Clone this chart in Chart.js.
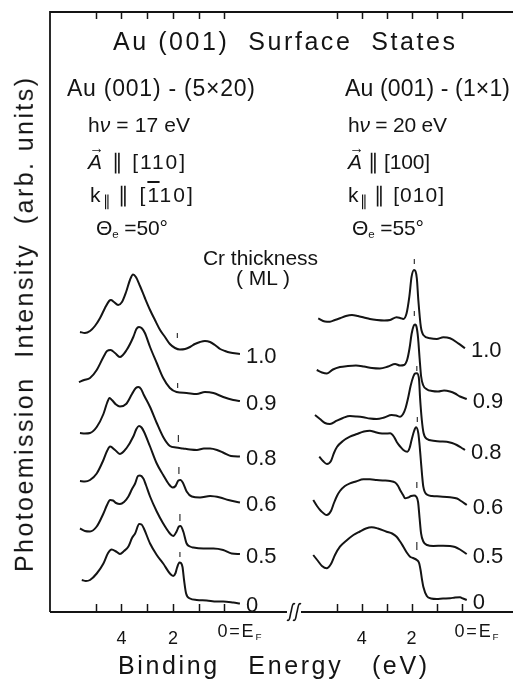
<!DOCTYPE html>
<html>
<head>
<meta charset="utf-8">
<script src="https://cdn.jsdelivr.net/npm/chart.js@4.4.1/dist/chart.umd.min.js"></script>
<style>
html, body { margin: 0; padding: 0; background: #fff; }
#wrap { position: relative; width: 513px; height: 681px; overflow: hidden;
        font-family: "Liberation Sans", Arial, sans-serif; color: #141414; }
#c { position: absolute; left: 0; top: 0; }
.t { position: absolute; white-space: pre; line-height: 1; }
.t sub { font-size: 55%; vertical-align: -0.3em; line-height: 0; }
.t sub.par { font-size: 70%; letter-spacing: 0; }
.vec { position: relative; font-style: italic; }
.vec::before { content: "\2192"; position: absolute; left: 0.08em; top: -0.6em; font-size: 70%; font-style: normal; }
.bar { text-decoration: overline; }
</style>
</head>
<body>
<div id="wrap"><canvas id="c" width="513" height="681"></canvas></div>
<script>
const INK = "#141414";

// Cr coverage (ML) for each stacked spectrum, top to bottom
const CR_LABELS = ["1.0", "0.9", "0.8", "0.6", "0.5", "0"];

// binding-energy ticks (eV)
const TICK_VALUES = [0, 1, 2, 3, 4, 5];
const TICK_LABELS = { 4: "4", 2: "2" };

// Au(001)-(5x20), hv = 17 eV : [binding energy (eV), intensity + offset]
const L_10 = [[5.61,28.0],[5.42,27.9],[5.22,28.1],[5.03,28.6],[4.83,29.4],[4.64,30.4],[4.48,31.1],[4.41,31.2],[4.29,31.0],[4.13,30.7],[3.98,31.0],[3.82,32.0],[3.67,33.2],[3.55,33.75],[3.44,33.5],[3.28,32.6],[3.09,31.4],[2.89,30.2],[2.70,29.2],[2.50,28.2],[2.31,27.5],[2.12,26.8],[1.92,26.4],[1.73,26.25],[1.53,26.3],[1.34,26.5],[1.15,26.8],[0.95,27.0],[0.76,27.1],[0.56,27.0],[0.37,26.7],[0.17,26.3],[-0.02,26.1],[-0.21,25.95],[-0.60,25.8]];
const L_09 = [[5.65,23.0],[5.45,23.2],[5.22,23.4],[4.96,24.2],[4.70,25.5],[4.56,26.1],[4.42,26.2],[4.25,25.9],[4.06,25.5],[3.80,26.2],[3.54,27.5],[3.42,28.3],[3.32,28.5],[3.20,28.35],[3.09,27.9],[2.89,26.5],[2.63,24.9],[2.38,23.4],[2.12,22.4],[1.86,22.0],[1.47,21.9],[1.08,21.8],[0.76,22.0],[0.43,21.9],[0.05,21.5],[-0.34,21.2],[-0.60,21.1]];
const L_08 = [[5.61,17.9],[5.42,17.85],[5.22,17.9],[4.96,18.5],[4.70,19.8],[4.56,20.9],[4.46,21.4],[4.37,21.2],[4.21,20.75],[4.06,20.55],[3.82,20.8],[3.59,21.8],[3.44,22.4],[3.34,22.5],[3.24,22.3],[3.13,21.7],[2.89,20.5],[2.63,18.9],[2.38,17.5],[2.12,16.6],[1.88,16.45],[1.61,16.35],[1.34,16.25],[1.07,16.2],[0.80,16.35],[0.56,16.35],[0.29,16.2],[0.02,15.9],[-0.25,15.6],[-0.60,15.55]];
const L_06 = [[5.61,13.1],[5.42,13.05],[5.22,13.2],[4.96,13.85],[4.70,15.2],[4.56,16.1],[4.44,16.55],[4.25,16.2],[4.06,15.8],[3.80,16.4],[3.54,17.55],[3.42,18.3],[3.32,18.6],[3.22,18.45],[3.13,18.05],[2.89,16.55],[2.63,14.85],[2.38,13.7],[2.18,12.85],[2.01,12.45],[1.90,12.6],[1.79,13.15],[1.71,13.2],[1.61,12.9],[1.47,12.05],[1.27,11.55],[0.95,11.45],[0.56,11.6],[0.17,11.45],[-0.15,11.2],[-0.60,10.95]];
const L_05 = [[5.61,8.35],[5.42,8.1],[5.22,8.05],[4.96,8.55],[4.70,9.85],[4.56,10.7],[4.44,11.2],[4.33,11.15],[4.21,10.9],[4.06,10.8],[3.90,11.0],[3.73,11.55],[3.59,12.3],[3.47,12.85],[3.36,13.6],[3.28,13.65],[3.15,13.35],[3.05,12.7],[2.89,11.55],[2.63,10.05],[2.38,8.85],[2.12,7.85],[1.99,7.6],[1.86,8.05],[1.77,8.55],[1.71,8.6],[1.60,8.05],[1.47,6.85],[1.34,6.55],[1.21,6.45],[0.82,6.35],[0.43,6.35],[0.05,6.2],[-0.28,5.85],[-0.60,5.8]];
const L_00 = [[5.54,3.2],[5.38,3.1],[5.22,3.2],[4.96,3.85],[4.70,4.85],[4.52,5.9],[4.38,6.25],[4.21,6.05],[4.06,5.8],[3.90,6.1],[3.73,6.55],[3.59,7.4],[3.47,7.85],[3.31,8.8],[3.22,8.75],[3.13,8.35],[2.89,6.85],[2.63,5.7],[2.38,4.85],[2.12,3.85],[1.99,3.6],[1.90,3.9],[1.84,4.45],[1.75,4.95],[1.69,4.9],[1.63,4.5],[1.57,3.2],[1.49,1.85],[1.34,1.35],[1.08,1.2],[0.69,1.15],[0.30,1.05],[0.05,1.05],[-0.34,0.95],[-0.60,0.85]];

// Au(001)-(1x1), hv = 20 eV
const R_10 = [[5.74,29.37],[5.47,29.05],[5.27,29.03],[5.07,29.2],[4.87,29.37],[4.63,29.6],[4.39,29.7],[4.15,29.6],[3.91,29.45],[3.67,29.3],[3.39,29.2],[3.10,29.15],[2.86,29.2],[2.60,29.47],[2.46,29.4],[2.33,29.3],[2.20,29.87],[2.09,31.53],[2.00,33.53],[1.90,34.2],[1.79,33.37],[1.73,31.2],[1.63,28.53],[1.53,27.7],[1.26,27.37],[0.99,27.3],[0.73,27.47],[0.46,27.37],[0.13,26.87],[-0.14,26.37]];
const R_09 = [[5.80,24.2],[5.59,23.95],[5.39,23.85],[5.15,24.25],[4.87,24.5],[4.55,24.6],[4.23,24.65],[3.91,24.55],[3.59,24.4],[3.27,24.35],[2.94,24.55],[2.66,24.8],[2.46,24.65],[2.30,24.7],[2.18,25.2],[2.08,26.4],[2.00,27.8],[1.92,28.6],[1.86,28.75],[1.80,28.5],[1.74,27.4],[1.68,25.4],[1.62,23.6],[1.54,22.7],[1.38,22.25],[1.18,22.1],[0.94,22.05],[0.70,22.15],[0.46,22.05],[0.26,21.85],[0.06,21.55],[-0.21,21.3]];
const R_08 = [[5.87,19.7],[5.67,19.3],[5.47,18.9],[5.27,18.8],[5.00,19.13],[4.75,19.4],[4.47,19.6],[4.19,19.55],[3.93,19.47],[3.67,19.35],[3.40,19.3],[3.10,19.45],[2.80,19.7],[2.62,19.65],[2.46,19.53],[2.34,19.8],[2.24,20.4],[2.14,21.4],[2.04,22.6],[1.93,23.55],[1.86,23.85],[1.78,23.87],[1.70,23.2],[1.66,21.4],[1.59,19.2],[1.52,17.9],[1.38,17.3],[1.13,17.13],[0.86,17.05],[0.59,17.03],[0.38,16.9],[0.19,16.7],[0.02,16.45],[-0.14,16.2]];
const R_06 = [[5.70,15.53],[5.55,15.1],[5.39,14.8],[5.23,15.1],[5.11,15.9],[4.99,16.5],[4.75,17.1],[4.47,17.53],[4.19,17.8],[3.91,18.05],[3.67,18.13],[3.47,18.0],[3.27,17.87],[3.06,17.85],[2.86,17.87],[2.70,17.5],[2.60,17.03],[2.46,16.55],[2.33,16.2],[2.17,16.03],[2.08,16.4],[2.00,17.2],[1.90,18.1],[1.82,18.47],[1.73,17.87],[1.68,16.7],[1.63,15.2],[1.58,13.7],[1.53,12.53],[1.39,11.75],[1.18,11.6],[0.86,11.55],[0.46,11.47],[0.18,11.35],[0.02,11.1],[-0.21,10.7]];
const R_05 = [[5.94,11.2],[5.79,10.6],[5.63,10.1],[5.40,9.7],[5.23,10.1],[5.11,10.9],[4.99,11.6],[4.87,12.1],[4.67,12.6],[4.47,12.87],[4.23,13.05],[3.93,13.27],[3.67,13.27],[3.40,13.2],[3.15,13.15],[2.86,13.1],[2.66,12.95],[2.54,12.6],[2.46,12.2],[2.34,11.7],[2.26,11.37],[2.14,11.45],[2.02,11.6],[1.90,11.65],[1.82,11.55],[1.74,11.0],[1.68,9.4],[1.62,7.87],[1.53,7.05],[1.38,6.7],[1.13,6.6],[0.74,6.63],[0.46,6.6],[0.26,6.5],[0.06,6.25],[-0.21,5.8]];
const R_00 = [[5.94,5.7],[5.75,5.1],[5.59,4.6],[5.40,4.37],[5.23,4.8],[5.07,5.7],[4.87,6.53],[4.63,7.1],[4.33,7.7],[4.07,8.05],[3.83,8.35],[3.60,8.47],[3.35,8.35],[3.00,8.03],[2.78,7.85],[2.60,7.53],[2.46,7.05],[2.33,6.53],[2.18,5.9],[2.06,5.53],[1.94,5.4],[1.79,5.2],[1.70,4.9],[1.64,4.2],[1.58,3.2],[1.53,2.53],[1.39,1.6],[1.22,1.35],[0.99,1.3],[0.74,1.35],[0.46,1.37],[0.26,1.45],[0.06,1.47],[-0.06,1.35],[-0.21,1.2]];

// surface-state markers: [energy, lower, upper]
const L_MARKS = [[1.83,27.4,27.9],[1.82,22.4,22.9],[1.79,17.0,17.7],[1.77,13.8,14.5],[1.73,9.1,9.8],[1.73,5.5,6.0]];
const R_MARKS = [[1.89,34.8,35.3],[1.89,29.6,30.1],[1.79,24.1,24.6],[1.77,19.0,19.5],[1.79,12.4,13.0],[1.79,6.2,7.0]];

const LEFT = [L_10, L_09, L_08, L_06, L_05, L_00];
const RIGHT = [R_10, R_09, R_08, R_06, R_05, R_00];

Chart.defaults.font.family = '"Liberation Sans", Arial, sans-serif';
Chart.defaults.color = INK;

function traceSet(points, axis) {
    return {
        data: points.map(([e, v]) => ({ x: e, y: v })),
        xAxisID: axis,
        yAxisID: "y",
        borderColor: INK,
        borderWidth: 2,
        pointRadius: 0,
        cubicInterpolationMode: "monotone",
        fill: false,
    };
}

function markSet(marks, axis) {
    return {
        data: marks.flatMap(([e, lo, hi]) => [{ x: e, y: lo }, { x: e, y: hi }, { x: e, y: null }]),
        xAxisID: axis,
        yAxisID: "y",
        borderColor: "#333",
        borderWidth: 1.2,
        pointRadius: 0,
        tension: 0,
        spanGaps: false,
        fill: false,
    };
}

// both energy axes sit on the bottom edge of the plot (y = 0)
function energyAxis(min, max) {
    return {
        type: "linear",
        position: { y: 0 },
        reverse: true,
        min: min,
        max: max,
        grid: { display: false },
        border: { display: false },
        afterBuildTicks: (s) => { s.ticks = TICK_VALUES.map((v) => ({ value: v })); },
        ticks: {
            autoSkip: false,
            maxRotation: 0,
            padding: 8,
            color: INK,
            font: { size: 18 },
            callback: (v) => TICK_LABELS[v] || "",
        },
    };
}

const BREAK_X = 292;

// frame, inward tick marks and the axis break
const framePlugin = {
    id: "frame",
    afterDraw(chart) {
        const { ctx, chartArea: a, scales } = chart;
        ctx.save();
        ctx.strokeStyle = INK;
        ctx.lineWidth = 1.8;
        ctx.lineCap = "butt";
        ctx.beginPath();
        ctx.moveTo(a.left, a.bottom);
        ctx.lineTo(a.left, a.top);
        ctx.lineTo(a.right, a.top);
        ctx.moveTo(a.left, a.bottom);
        ctx.lineTo(BREAK_X - 5, a.bottom);
        ctx.moveTo(BREAK_X + 9, a.bottom);
        ctx.lineTo(a.right, a.bottom);
        ctx.stroke();

        ctx.lineWidth = 1.5;
        ctx.beginPath();
        for (const id of ["xL", "xR"]) {
            for (const v of TICK_VALUES) {
                const x = Math.round(scales[id].getPixelForValue(v)) + 0.5;
                ctx.moveTo(x, a.top);
                ctx.lineTo(x, a.top + 7);
                ctx.moveTo(x, a.bottom);
                ctx.lineTo(x, a.bottom - 8);
            }
        }
        ctx.stroke();

        ctx.lineWidth = 1.6;
        ctx.beginPath();
        for (const cx of [BREAK_X - 1, BREAK_X + 5]) {
            const y = a.bottom;
            ctx.moveTo(cx - 4, y + 8);
            ctx.bezierCurveTo(cx - 1, y + 10, cx - 1, y + 3, cx, y);
            ctx.bezierCurveTo(cx + 1, y - 3, cx + 1, y - 10, cx + 4, y - 8);
        }
        ctx.stroke();
        ctx.restore();
    },
};

const datasets = [
    ...LEFT.map((p) => traceSet(p, "xL")),
    ...RIGHT.map((p) => traceSet(p, "xR")),
    markSet(L_MARKS, "xL"),
    markSet(R_MARKS, "xR"),
];

const chart = new Chart(document.getElementById("c"), {
    type: "line",
    data: { datasets },
    options: {
        responsive: false,
        animation: false,
        events: [],
        layout: { padding: { left: 50, top: 12, right: 0, bottom: 69 } },
        plugins: { legend: { display: false }, tooltip: { enabled: false } },
        scales: {
            y: { type: "linear", min: 0, max: 60, display: false },
            xL: energyAxis(-11.2, 6.774),
            xR: energyAxis(-2.063, 16.486),
        },
    },
    plugins: [framePlugin],
});

// ---- text ----
const wrap = document.getElementById("wrap");

function put(html, x0, base, size, x1) {
    const el = document.createElement("div");
    el.className = "t";
    el.innerHTML = html;
    el.style.fontSize = size + "px";
    el.style.left = x0 + "px";
    el.style.top = (base - 0.8465 * size) + "px";
    wrap.appendChild(el);
    if (x1) {
        const n = el.textContent.length;
        const w = el.getBoundingClientRect().width;
        el.style.letterSpacing = ((x1 - x0 - w) / Math.max(1, n - 1)) + "px";
    }
    return el;
}

put("Au (001)  Surface  States", 113, 50, 25, 455);
put("Au (001) - (5×20)", 67, 96.7, 23, 255);
put("Au (001) - (1×1)", 345, 96.7, 23, 510);

put("h<i>ν</i> = 17 eV", 88, 131.7, 21, 190);
put('<span class="vec">A</span> ∥ [110]', 88, 169, 21, 185);
put('k<sub class="par">∥</sub> ∥ [<span class="bar">1</span>10]', 90, 201.7, 21, 195);
put("Θ<sub>e</sub> =50°", 96, 235, 21, 168);

put("h<i>ν</i> = 20 eV", 348, 131.7, 21, 447);
put('<span class="vec">A</span> ∥ [100]', 348, 169, 21, 430);
put('k<sub class="par">∥</sub> ∥ [010]', 348, 201.7, 21, 445);
put("Θ<sub>e</sub> =55°", 352, 235, 21, 424);

put("Cr thickness", 203, 265, 21, 318);
put("( ML )", 236, 285, 21, 290);

put("Binding   Energy   (eV)", 118, 674, 25, 427);

// Fermi-level tick labels next to the zero tick of each panel
for (const id of ["xL", "xR"]) {
    const x0 = chart.scales[id].getPixelForValue(0) - 7;
    put("0=E<sub>F</sub>", x0, 637, 18, x0 + 44);
}

// coverage labels at the right-hand end of every spectrum
[[LEFT, "xL"], [RIGHT, "xR"]].forEach(([traces, id]) => {
    traces.forEach((p, i) => {
        const last = p[p.length - 1];
        const x = chart.scales[id].getPixelForValue(last[0]) + 6;
        const y = chart.scales.y.getPixelForValue(last[1]) + 1.5;
        put(CR_LABELS[i], x, y + 7.9, 22);
    });
});

// vertical axis title, reading bottom to top
const yTitle = put("Photoemission  Intensity  (arb. units)", 0, 0, 25);
const natural = yTitle.getBoundingClientRect().width;
yTitle.style.letterSpacing = ((494 - natural) / 37) + "px";
yTitle.style.left = "0px";
yTitle.style.top = "0px";
yTitle.style.transformOrigin = "0 0";
yTitle.style.transform = "translate(" + (33 - 0.8465 * 25) + "px, 572px) rotate(-90deg)";
</script>
</body>
</html>
